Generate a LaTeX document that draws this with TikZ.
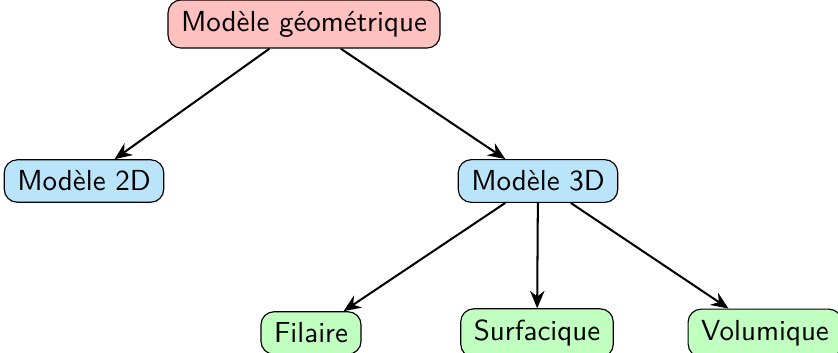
\documentclass[tikz,border=0pt]{standalone}
\usepackage{tikz}
\usetikzlibrary{arrows.meta}

\definecolor{boxred}{RGB}{255,192,192}
\definecolor{boxblue}{RGB}{186,228,250}
\definecolor{boxgreen}{RGB}{192,255,192}

\tikzset{every picture/.style={line width=0.75pt}}
\tikzset{
  modelbox/.style={draw, rounded corners=4.5pt, font=\sffamily, thin, inner xsep=4.5pt, inner ysep=3.8pt},
  link/.style={-{Stealth[length=6pt,width=5pt,inset=2pt]}, line width=0.7pt}
}

\begin{document}
\begin{tikzpicture}[x=0.345pt,y=0.345pt,yscale=-1,xscale=1]
    \path[use as bounding box] (0,0) rectangle (838,352);
    % Root
    \node[modelbox, fill=boxred] (geo) at (304,24) {Modèle géométrique};
    % First level
    \node[modelbox, fill=boxblue] (m2d) at (84,181) {Modèle 2D};
    \node[modelbox, fill=boxblue] (m3d) at (538,181) {Modèle 3D};
    % Kinds of 3D model
    \node[modelbox, fill=boxgreen] (fil) at (311,333) {Filaire};
    \node[modelbox, fill=boxgreen] (sur) at (537,333) {Surfacique};
    \node[modelbox, fill=boxgreen] (vol) at (765,333) {Volumique};
    % Connections
    \draw[link] (geo) -- (m2d);
    \draw[link] (geo) -- (m3d);
    \draw[link] (m3d) -- (fil);
    \draw[link] (m3d) -- (sur);
    \draw[link] (m3d) -- (vol);
\end{tikzpicture}
\end{document}
